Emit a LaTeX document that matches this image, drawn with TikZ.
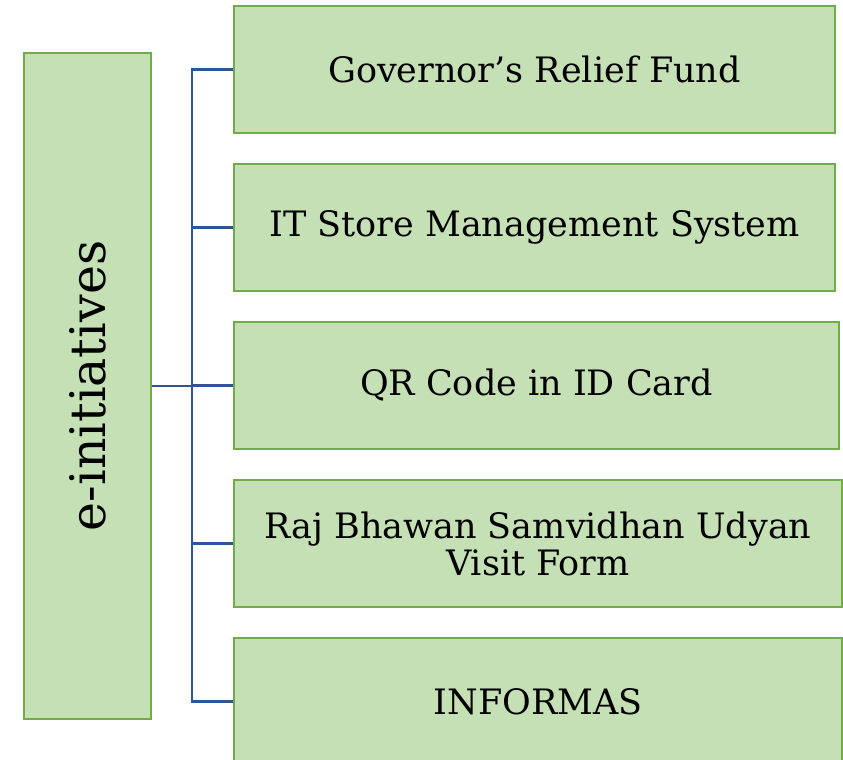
\documentclass[tikz,border=0pt]{standalone}
\usepackage{fontspec}
\setmainfont{DejaVu Serif}
\usepackage{tikz}
\definecolor{boxfill}{HTML}{C5E0B4}
\definecolor{boxline}{HTML}{70AD47}
\definecolor{linkblue}{HTML}{2F5597}
\tikzstyle{initbox} = [rectangle, fill = boxfill, draw = boxline, line width=2pt, minimum height=127pt, inner sep=0pt, align=center, font=\fontsize{35}{37}\selectfont]
\tikzstyle{headbox} = [rectangle, fill = boxfill, draw = boxline, line width=2pt, minimum width=127pt, minimum height=666pt, inner sep=0pt]
\tikzstyle{link} = [draw = linkblue, line width=2.5pt]
\usetikzlibrary{positioning}

\begin{document}
\begin{tikzpicture}[x=1pt, y=1pt]
      \useasboundingbox (0,0) rectangle (843,760);
      \node[headbox] (head) at (87.5,374){};
      \node[rotate=90, font=\fontsize{49}{52}\selectfont] (headtext) at (head.center){e-initiatives};

      \node[initbox, minimum width=601pt] (fund) at (534.5,690.5){Governor’s Relief Fund};
      \node[initbox, minimum width=601pt] (store) at (534.5,532.5){IT Store Management System};
      \node[initbox, minimum width=605pt] (qr) at (536.5,374.5){QR Code in ID Card};
      \node[initbox, minimum width=608pt] (visit) at (538,216.5){Raj Bhawan Samvidhan Udyan\\Visit Form};
      \node[initbox, minimum width=608pt] (info) at (538,58.5){INFORMAS};

      \coordinate (trunk) at (192,374);
      \draw[link] (head.east) -- (trunk);
      \draw[link] (fund.west) -| (trunk |- info.west) -- (info.west);
      \draw[link] (trunk |- store.west) -- (store.west);
      \draw[link] (trunk |- qr.west) -- (qr.west);
      \draw[link] (trunk |- visit.west) -- (visit.west);
    \end{tikzpicture}
\end{document}
